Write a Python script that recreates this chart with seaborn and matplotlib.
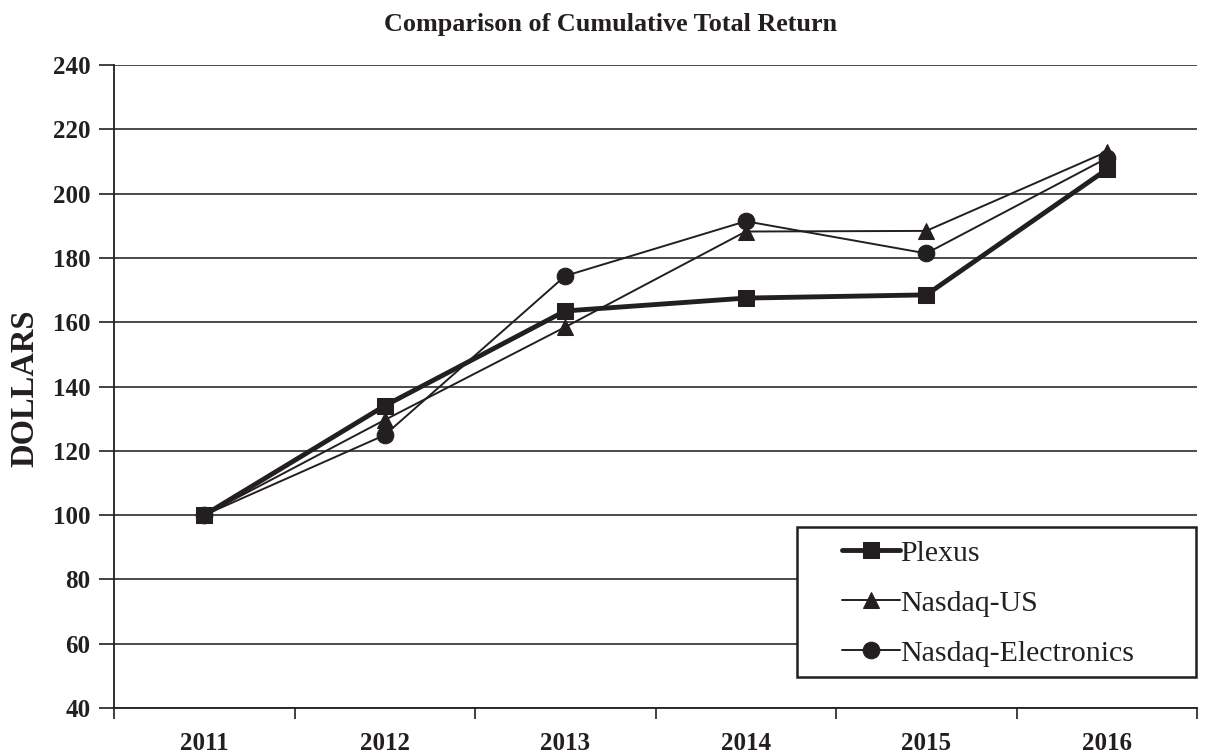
import matplotlib
matplotlib.use("Agg")
import matplotlib.pyplot as plt
import seaborn as sns
import pandas as pd
from matplotlib.ticker import FixedLocator, NullFormatter, FixedFormatter
from matplotlib.patches import Rectangle

years = [2011, 2012, 2013, 2014, 2015, 2016]
plexus = [100, 134, 163.5, 167.5, 168.5, 207.5]
nasdaq_us = [100, 129.6, 158.5, 188.2, 188.4, 213]
nasdaq_elec = [100, 124.9, 174.4, 191.4, 181.4, 211]
series_names = ["Plexus", "Nasdaq-US", "Nasdaq-Electronics"]
y_ticks = [40, 60, 80, 100, 120, 140, 160, 180, 200, 220, 240]

sns.set_theme(style="white")
plt.rcParams['font.family'] = ['Liberation Serif', 'DejaVu Serif']

df = pd.DataFrame({
    "year": years * 3,
    "value": plexus + nasdaq_us + nasdaq_elec,
    "series": [series_names[0]] * 6 + [series_names[1]] * 6 + [series_names[2]] * 6,
})

W, H = 1217, 754
fig = plt.figure(figsize=(W / 100, H / 100), dpi=100)
ax = fig.add_axes([114 / W, 1 - 708 / H, 1083 / W, 643 / H])

ink = "#231f20"
styles = {
    "Plexus": dict(marker="s", linewidth=3.5, markersize=12),
    "Nasdaq-US": dict(marker="^", linewidth=1.4, markersize=11),
    "Nasdaq-Electronics": dict(marker="o", linewidth=1.4, markersize=12),
}
for name in series_names:
    sub = df[df["series"] == name]
    sns.lineplot(data=sub, x="year", y="value", ax=ax, color=ink,
                 markeredgecolor=ink, label=name, sort=False,
                 zorder=3, **styles[name])

ax.set_xlim(years[0] - 0.5, years[-1] + 0.5)
ax.set_ylim(40, 240)
ax.set_yticks(y_ticks)
ax.set_yticklabels([str(t) for t in y_ticks], fontsize=18, fontweight="bold", color=ink)
ax.yaxis.grid(True, color="#4a4a4a", linewidth=1.4)
ax.xaxis.grid(False)
ax.tick_params(axis="y", direction="out", length=11, width=1.2, color=ink, left=True, pad=6)

bounds = [y - 0.5 for y in years] + [years[-1] + 0.5]
ax.xaxis.set_major_locator(FixedLocator(bounds))
ax.xaxis.set_major_formatter(NullFormatter())
ax.xaxis.set_minor_locator(FixedLocator(years))
ax.xaxis.set_minor_formatter(FixedFormatter([str(y) for y in years]))
ax.tick_params(axis="x", which="major", direction="out", length=8, width=1.2, color=ink, bottom=True)
ax.tick_params(axis="x", which="minor", length=0, pad=17.5, labelsize=18, labelcolor=ink)
for lbl in ax.get_xticklabels(minor=True):
    lbl.set_fontweight("bold")

for s in ["top", "right"]:
    ax.spines[s].set_visible(False)
for s in ["left", "bottom"]:
    ax.spines[s].set_color(ink)
    ax.spines[s].set_linewidth(1.3)

ax.set_xlabel("")
ax.set_ylabel("")
fig.text(25 / W, 1 - 388 / H, "DOLLARS", rotation=90, ha="center", va="center",
         fontsize=23.5, fontweight="bold", color=ink)
fig.text(611 / W, 1 - 25 / H, "Comparison of Cumulative Total Return", ha="center", va="center",
         fontsize=18.8, fontweight="bold", color=ink)

handles, labels = ax.get_legend_handles_labels()
ax.get_legend().remove()

frame = Rectangle((797 / W, 1 - 677 / H), 399 / W, 150 / H, transform=fig.transFigure,
                  facecolor="white", edgecolor=ink, linewidth=1.8, zorder=2)
fig.patches.append(frame)

leg = fig.legend(handles, labels, loc="upper left", bbox_to_anchor=(842 / W, 1 - 540 / H),
                 fontsize=21.5, frameon=False, handlelength=1.95, handletextpad=0.0,
                 borderpad=0.0, labelspacing=0.77, borderaxespad=0.0)
leg.set_zorder(5)
for t in leg.get_texts():
    t.set_color(ink)

fig.savefig("out.png", dpi=100)
